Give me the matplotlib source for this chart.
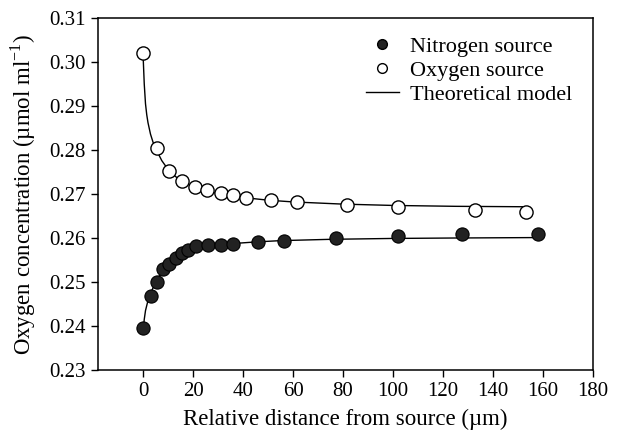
import matplotlib
matplotlib.use("Agg")
import matplotlib.pyplot as plt
from matplotlib.lines import Line2D

plt.rcParams['font.family'] = ['Liberation Serif', 'DejaVu Serif']
plt.rcParams['mathtext.fontset'] = 'custom'
plt.rcParams['mathtext.rm'] = 'Liberation Serif'

# Nitrogen source (filled)
n_x = [0, 3, 5.5, 8, 10.5, 13, 15.5, 18, 21, 26, 31, 36, 46, 56.5, 77, 102, 127.5, 158]
n_y = [0.2395, 0.2469, 0.2501, 0.2530, 0.2542, 0.2554, 0.2565, 0.2573, 0.2582, 0.2583,
       0.2584, 0.2586, 0.2590, 0.2594, 0.2600, 0.2605, 0.2608, 0.2609]

# Oxygen source (open)
o_x = [0, 5.5, 10.5, 15.6, 20.8, 25.7, 31, 36, 41, 51.2, 61.4, 81.7, 102.1, 132.7, 153]
o_y = [0.3020, 0.2805, 0.2753, 0.2730, 0.2717, 0.2708, 0.2702, 0.2697, 0.2692, 0.2686,
       0.2681, 0.2674, 0.2670, 0.2664, 0.2660]

# Theoretical model curves
mo_x = [0, 0.5, 1, 1.5, 2, 3, 4, 5, 7.5, 10, 12.5, 15, 20, 25, 30, 35, 40, 50, 60, 80, 100, 125, 153]
mo_y = [0.3020, 0.2950, 0.2905, 0.2880, 0.2862, 0.2836, 0.2818, 0.2804, 0.2776, 0.2756, 0.2742,
        0.2731, 0.2717, 0.2708, 0.2701, 0.2696, 0.2692, 0.2686, 0.2682, 0.2677, 0.2674, 0.2672, 0.2671]
mn_x = [0, 0.5, 1, 2, 3, 5, 7.5, 10, 12.5, 15, 17.5, 20, 25, 30, 35, 45, 55, 75, 100, 125, 158]
mn_y = [0.2386, 0.2415, 0.2435, 0.2458, 0.2474, 0.2499, 0.2523, 0.2540, 0.2553, 0.2564, 0.2572,
        0.2577, 0.2582, 0.2585, 0.2587, 0.2591, 0.2594, 0.2597, 0.2599, 0.2600, 0.2601]

x_ticks = [0, 20, 40, 60, 80, 100, 120, 140, 160, 180]
y_ticks = [0.23, 0.24, 0.25, 0.26, 0.27, 0.28, 0.29, 0.30, 0.31]

fig = plt.figure(figsize=(6.22, 4.38), dpi=100)
ax = fig.add_axes([98/622, 1-370/438, (593-98)/622, (370-18)/438])

ax.plot(mo_x, mo_y, color='black', lw=1.0, zorder=2)
ax.plot(mn_x, mn_y, color='black', lw=1.0, zorder=2)
ax.plot(n_x, n_y, 'o', ms=9.5, mfc='#222222', mec='black', mew=0.8, zorder=3)
ax.plot(o_x, o_y, 'o', ms=9.5, mfc='white', mec='black', mew=1.0, zorder=3)

ax.set_xlim(-18, 180)
ax.set_ylim(0.23, 0.31)
ax.set_xticks(x_ticks)
ax.set_yticks(y_ticks)
ax.set_yticklabels([f"{v:.2f}" for v in y_ticks])
ax.tick_params(direction='out', length=5, width=1, labelsize=15, pad=4)
for s in ax.spines.values():
    s.set_linewidth(1.1)

ax.set_xlabel(u"Relative distance from source (\u00b5m)", fontsize=16.5, labelpad=5)
ax.set_ylabel(u"Oxygen concentration (\u00b5mol ml$^{-1}$)", fontsize=16.5, labelpad=8)

handles = [
    Line2D([], [], ls='none', marker='o', ms=7, mfc='#222222', mec='black'),
    Line2D([], [], ls='none', marker='o', ms=7, mfc='white', mec='black', mew=1.0),
    Line2D([], [], color='black', lw=1.0),
]
ax.legend(handles, ["Nitrogen source", "Oxygen source", "Theoretical model"],
          loc='upper right', bbox_to_anchor=(0.985, 0.985), frameon=False, fontsize=16,
          handlelength=1.5, handletextpad=0.5, labelspacing=0.15, borderaxespad=0.2)

fig.savefig("out.png", dpi=100)
